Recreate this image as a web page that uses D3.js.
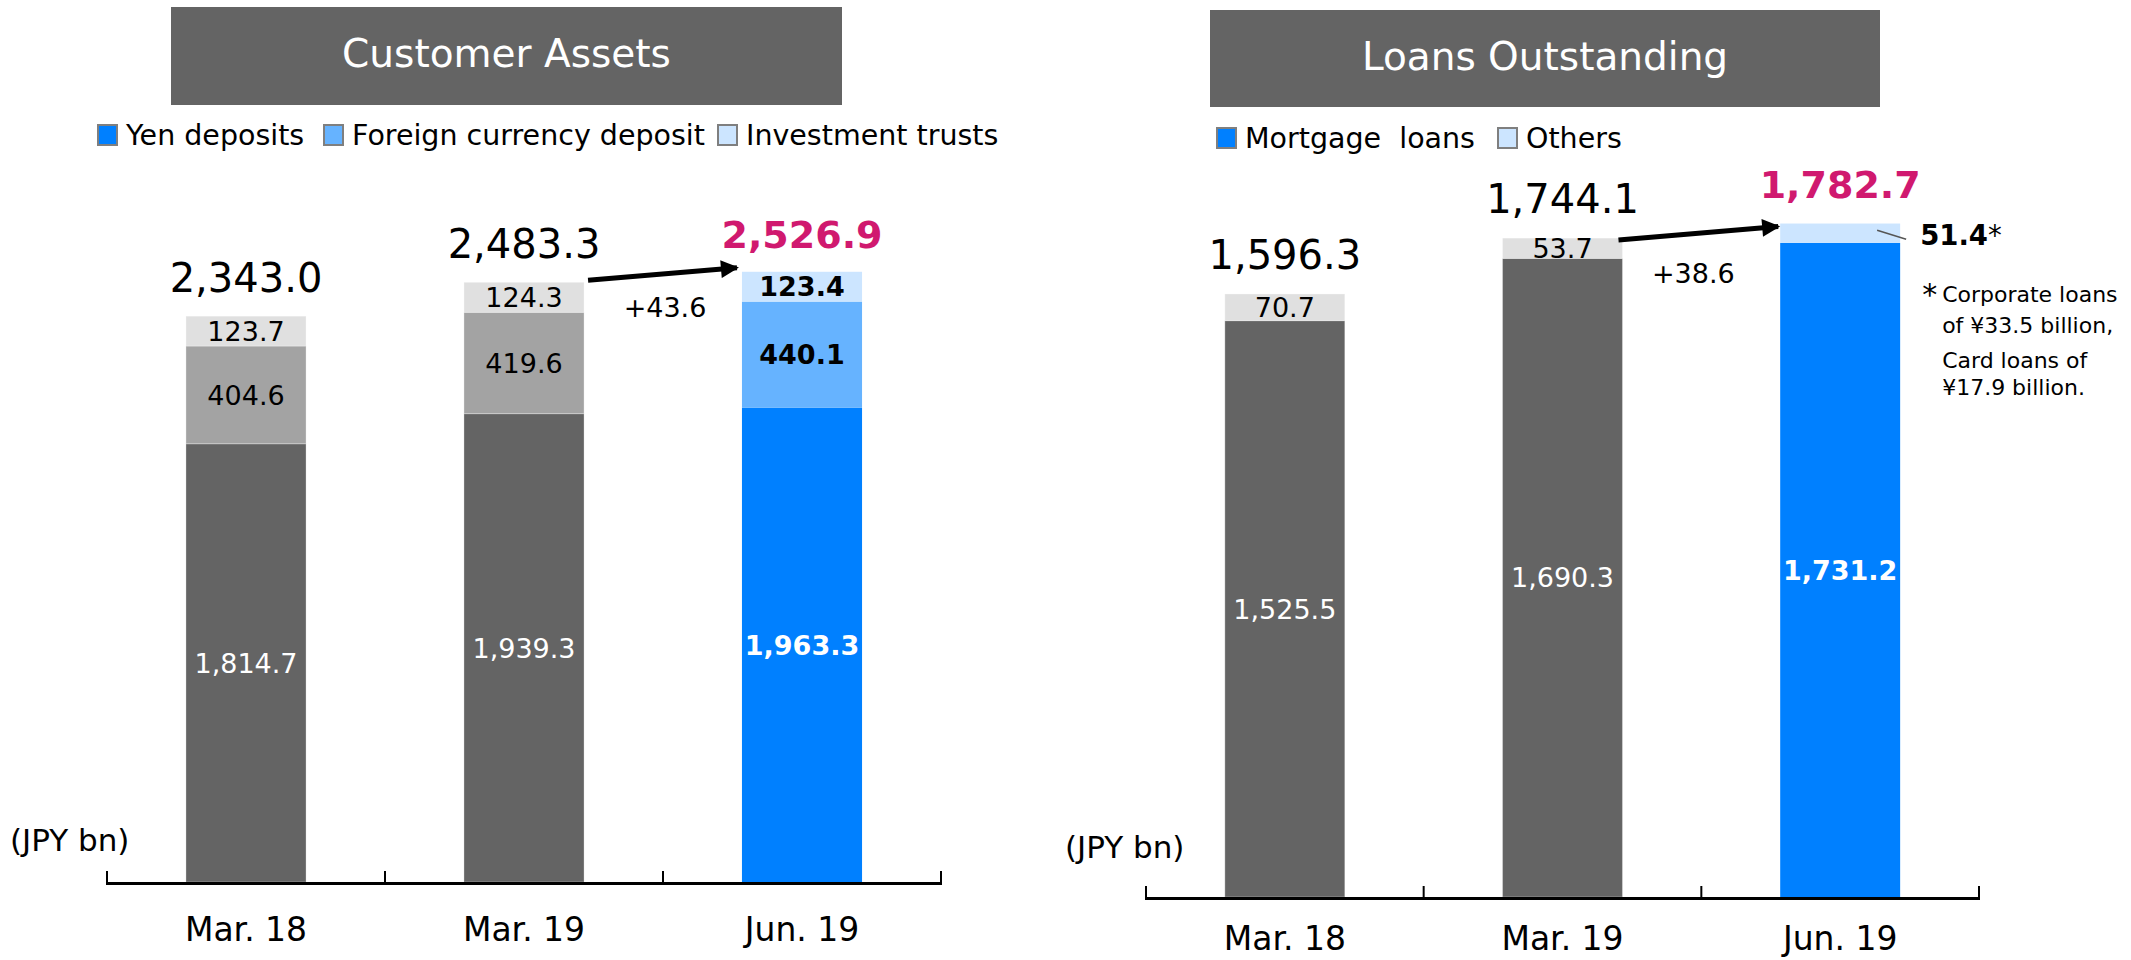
<!DOCTYPE html>
<html>
<head>
<meta charset="utf-8">
<script src="https://cdn.jsdelivr.net/npm/d3@7"></script>
<style>
  body { margin: 0; background: #fff; }
  svg { display: block; font-family: "DejaVu Sans", Verdana, sans-serif; }
</style>
</head>
<body>
<div id="vis"></div>
<script>
// data
var periods = ["Mar. 18", "Mar. 19", "Jun. 19"];

var yenDeposits = [1814.7, 1939.3, 1963.3];
var foreignDeposits = [404.6, 419.6, 440.1];
var investmentTrusts = [123.7, 124.3, 123.4];
var assetTotals = [2343.0, 2483.3, 2526.9];
var assetKeys = ["Yen deposits", "Foreign currency deposit", "Investment trusts"];
var assetChange = "+43.6";

var mortgageLoans = [1525.5, 1690.3, 1731.2];
var otherLoans = [70.7, 53.7, 51.4];
var loanTotals = [1596.3, 1744.1, 1782.7];
var loanKeys = ["Mortgage  loans", "Others"];
var loanChange = "+38.6";

var footnote = ["Corporate loans", "of \u00a533.5 billion,", "Card loans of", "\u00a517.9 billion."];

var greys = ["#646464", "#a3a3a3", "#e0e0e0"];
var blues = ["#0080ff", "#66b3ff", "#cce5ff"];
var pink = "#d0196f";

var fmt = d3.format(",.1f");

var svg = d3.select("#vis").append("svg")
  .attr("width", 2131)
  .attr("height", 960);

svg.append("defs").append("marker")
  .attr("id", "arrow")
  .attr("markerUnits", "userSpaceOnUse")
  .attr("viewBox", "0 0 18 18")
  .attr("refX", 16)
  .attr("refY", 9)
  .attr("markerWidth", 19)
  .attr("markerHeight", 18)
  .attr("orient", "auto")
  .append("path")
  .attr("d", "M0,0 L18,9 L0,18 Z")
  .attr("fill", "#000");

function drawPanel(cfg) {
  var g = svg.append("g");

  var x = d3.scaleBand()
    .domain(periods)
    .range(cfg.xRange)
    .paddingInner(0.568)
    .paddingOuter(0.284);

  var y = d3.scaleLinear()
    .domain([0, cfg.yMax])
    .range([cfg.base, cfg.base - cfg.yMax * cfg.pxPer]);

  // which shade each key takes
  var shade = function(k) { return cfg.shades[k]; };

  // title box
  g.append("rect")
    .attr("x", cfg.box[0]).attr("y", cfg.box[1])
    .attr("width", cfg.box[2]).attr("height", cfg.box[3])
    .attr("fill", "#646464");
  g.append("text")
    .attr("x", cfg.box[0] + cfg.box[2] / 2)
    .attr("y", cfg.box[1] + 60)
    .attr("text-anchor", "middle")
    .attr("fill", "#fff")
    .attr("font-size", 39)
    .text(cfg.title);

  // legend
  var lg = g.selectAll(".legend")
    .data(cfg.keys)
    .enter().append("g")
    .attr("transform", function(d, i) { return "translate(" + cfg.legendX[i] + "," + cfg.legendY + ")"; });
  lg.append("rect")
    .attr("x", 1).attr("y", -20)
    .attr("width", 19).attr("height", 20)
    .attr("fill", function(d, i) { return blues[shade(i)]; })
    .attr("stroke", "#7f7f7f")
    .attr("stroke-width", 2);
  lg.append("text")
    .attr("x", 29)
    .attr("y", 0)
    .attr("font-size", 28.5)
    .style("white-space", "pre")
    .text(function(d) { return d; });

  // stacked bars
  var rows = periods.map(function(p, i) {
    var r = { period: p, idx: i };
    cfg.keys.forEach(function(k, j) { r[k] = cfg.series[j][i]; });
    return r;
  });
  var stacked = d3.stack().keys(cfg.keys)(rows);

  var layer = g.append("g").selectAll("g")
    .data(stacked)
    .enter().append("g");

  layer.selectAll("rect")
    .data(function(d) { return d.map(function(v) { v.ki = d.index; return v; }); })
    .enter().append("rect")
    .attr("x", function(d) { return x(d.data.period); })
    .attr("y", function(d) { return y(d[1]); })
    .attr("width", x.bandwidth())
    .attr("height", function(d) { return y(d[0]) - y(d[1]); })
    .attr("fill", function(d) { return d.data.idx === 2 ? blues[shade(d.ki)] : greys[shade(d.ki)]; })
    .attr("stroke", function(d) { return d.data.idx === 2 ? "none" : "#fff"; })
    .attr("stroke-opacity", 0.3)
    .attr("stroke-width", 1);

  // segment labels
  layer.selectAll(".seg")
    .data(function(d) { return d; })
    .enter().append("text")
    .filter(function(d) { return !(cfg.outsideLast && d.data.idx === 2 && d.ki === cfg.keys.length - 1); })
    .attr("x", function(d) { return x(d.data.period) + x.bandwidth() / 2; })
    .attr("y", function(d) { return (y(d[0]) + y(d[1])) / 2; })
    .attr("dy", "0.36em")
    .attr("text-anchor", "middle")
    .attr("font-size", 27)
    .attr("font-weight", function(d) { return d.data.idx === 2 ? "bold" : "normal"; })
    .attr("fill", function(d) { return d.ki === 0 ? "#fff" : "#000"; })
    .text(function(d) { return fmt(d[1] - d[0]); });

  // totals
  g.selectAll(".total")
    .data(cfg.totals)
    .enter().append("text")
    .attr("x", function(d, i) { return x(periods[i]) + x.bandwidth() / 2; })
    .attr("y", function(d) { return y(d) - cfg.totalGap; })
    .attr("text-anchor", "middle")
    .attr("font-size", function(d, i) { return i === 2 ? 38 : 40; })
    .attr("font-weight", function(d, i) { return i === 2 ? "bold" : "normal"; })
    .attr("fill", function(d, i) { return i === 2 ? pink : "#000"; })
    .text(function(d) { return fmt(d); });

  // change arrow
  var x2 = x(periods[1]) + x.bandwidth();
  var x3 = x(periods[2]);
  g.append("line")
    .attr("x1", x2 + cfg.arrowDx[0])
    .attr("y1", y(cfg.totals[1]) + cfg.arrowDy[0])
    .attr("x2", x3 + cfg.arrowDx[1])
    .attr("y2", y(cfg.totals[2]) + cfg.arrowDy[1])
    .attr("stroke", "#000")
    .attr("stroke-width", 5)
    .attr("marker-end", "url(#arrow)");

  g.append("text")
    .attr("x", (x2 + x3) / 2 + cfg.changeDx)
    .attr("y", y(cfg.totals[1]) + cfg.changeDy)
    .attr("text-anchor", "middle")
    .attr("font-size", 27)
    .text(cfg.change);

  // unit label
  g.append("text")
    .attr("x", cfg.unitX)
    .attr("y", cfg.unitY)
    .attr("font-size", 31)
    .text("(JPY bn)");

  // axis: category labels
  g.append("g")
    .attr("transform", "translate(0," + cfg.base + ")")
    .call(d3.axisBottom(x).tickSize(0).tickPadding(cfg.labelPad))
    .call(function(a) { a.select(".domain").remove(); })
    .selectAll("text")
    .attr("font-family", "DejaVu Sans, Verdana, sans-serif")
    .attr("font-size", 33)
    .attr("fill", "#000");

  // axis line with ticks between categories
  var r = x.range();
  var bounds = d3.range(periods.length + 1).map(function(i) { return r[0] + i * x.step(); });
  g.append("line")
    .attr("x1", r[0] - 1).attr("x2", r[1] + 1)
    .attr("y1", cfg.base + 1.5).attr("y2", cfg.base + 1.5)
    .attr("stroke", "#000").attr("stroke-width", 3);
  g.selectAll(".tick-b")
    .data(bounds)
    .enter().append("line")
    .attr("x1", function(d) { return d; }).attr("x2", function(d) { return d; })
    .attr("y1", cfg.base - 11).attr("y2", cfg.base)
    .attr("stroke", "#000").attr("stroke-width", 2);

  return { g: g, x: x, y: y };
}

drawPanel({
  title: "Customer Assets",
  box: [171, 7, 671, 98],
  keys: assetKeys,
  shades: [0, 1, 2],
  series: [yenDeposits, foreignDeposits, investmentTrusts],
  totals: assetTotals,
  change: assetChange,
  xRange: [107, 941],
  base: 882,
  yMax: 3000,
  pxPer: 0.2415,
  legendX: [97, 323, 717],
  legendY: 145,
  totalGap: 24,
  arrowDx: [4, -5],
  arrowDy: [-2, -4],
  changeDx: 2,
  changeDy: 35,
  unitX: 10,
  unitY: 851,
  labelPad: 36
});

var loans = drawPanel({
  title: "Loans Outstanding",
  box: [1210, 10, 670, 97],
  keys: loanKeys,
  shades: [0, 2],
  series: [mortgageLoans, otherLoans],
  totals: loanTotals,
  change: loanChange,
  outsideLast: true,
  xRange: [1146, 1979],
  base: 897,
  yMax: 2000,
  pxPer: 0.3778,
  legendX: [1216, 1497],
  legendY: 148,
  totalGap: 25,
  arrowDx: [-4, -2],
  arrowDy: [2, 3],
  changeDx: -8,
  changeDy: 45,
  unitX: 1065,
  unitY: 858,
  labelPad: 30
});

// outside label for the small "Others" segment of the last loans bar
var lx = loans.x, ly = loans.y;
var right = lx(periods[2]) + lx.bandwidth();
var mid = ly(mortgageLoans[2] + otherLoans[2] / 2);
loans.g.append("line")
  .attr("x1", right - 23).attr("y1", mid - 3)
  .attr("x2", right + 6).attr("y2", mid + 6)
  .attr("stroke", "#555").attr("stroke-width", 1.5);
var ol = loans.g.append("text")
  .attr("x", right + 20)
  .attr("y", mid + 12)
  .attr("font-size", 27.5);
ol.append("tspan").attr("font-weight", "bold").text(fmt(otherLoans[2]));
ol.append("tspan").text("*");

// footnote
loans.g.append("text")
  .attr("x", right + 22)
  .attr("y", mid + 72)
  .attr("font-size", 30)
  .text("*");
loans.g.selectAll(".note")
  .data(footnote)
  .enter().append("text")
  .attr("x", right + 42)
  .attr("y", function(d, i) { return mid + [69, 100, 135, 162][i]; })
  .attr("font-size", 22)
  .text(function(d) { return d; });
</script>
</body>
</html>
